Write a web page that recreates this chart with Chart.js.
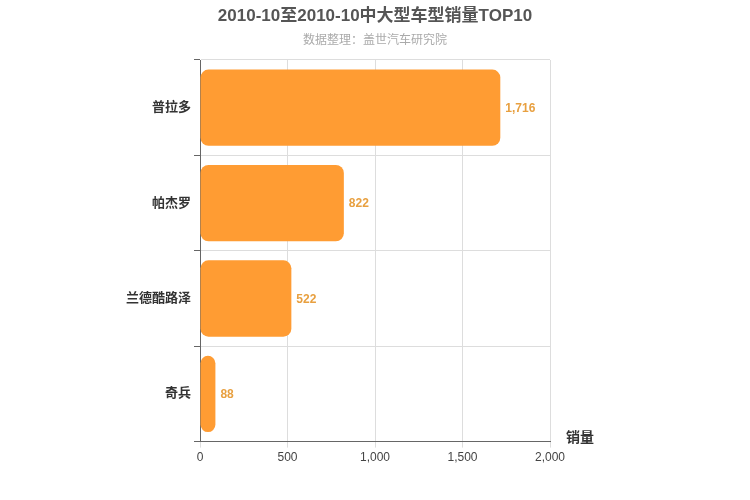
<!DOCTYPE html>
<html>
<head>
<meta charset="utf-8">
<script src="https://cdn.jsdelivr.net/npm/chart.js@4/dist/chart.umd.min.js"></script>
<style>
  body { margin: 0; background: #fff; }
  #wrap { width: 750px; height: 500px; }
</style>
</head>
<body>
<div id="wrap"><canvas id="c"></canvas></div>
<script>
const categories = ['普拉多', '帕杰罗', '兰德酷路泽', '奇兵'];
const sales = [1716, 822, 522, 88];
const xTicks = [0, 500, 1000, 1500, 2000];

const FONT = '"Liberation Sans", "Noto Sans CJK SC", sans-serif';

// 标题、轴名和数值标签
const extras = {
  id: 'extras',
  afterDraw(chart) {
    const c = chart.ctx;
    c.save();
    c.textAlign = 'center';
    c.textBaseline = 'middle';
    c.fillStyle = '#555';
    c.font = 'bold 17px ' + FONT;
    c.fillText('2010-10至2010-10中大型车型销量TOP10', 375, 16);
    c.fillStyle = '#aaa';
    c.font = '12px ' + FONT;
    c.fillText('数据整理：盖世汽车研究院', 375, 41);
    c.fillStyle = '#333';
    c.font = 'bold 14px ' + FONT;
    c.fillText('销量', 580, 438);

    const meta = chart.getDatasetMeta(0);
    c.textAlign = 'left';
    c.fillStyle = '#e8a040';
    c.font = 'bold 12px ' + FONT;
    meta.data.forEach((bar, i) => {
      c.fillText(sales[i].toLocaleString('en-US'), bar.x + 5, bar.y + 1);
    });
    c.restore();
  }
};

new Chart(document.getElementById('c'), {
  type: 'bar',
  data: {
    labels: categories,
    datasets: [{
      data: sales,
      backgroundColor: '#ff9c33',
      borderRadius: 8,
      borderSkipped: false,
      barPercentage: 0.8,
      categoryPercentage: 1
    }]
  },
  options: {
    indexAxis: 'y',
    responsive: true,
    maintainAspectRatio: false,
    animation: false,
    layout: { padding: { top: 60, right: 200, bottom: 32, left: 0 } },
    plugins: { legend: { display: false }, tooltip: { enabled: false } },
    scales: {
      x: {
        min: 0, max: 2000,
        afterBuildTicks(scale) { scale.ticks = xTicks.map(v => ({ value: v })); },
        grid: { color: '#ddd', drawTicks: true, tickLength: 6 },
        border: { color: '#666' },
        ticks: { color: '#444', font: { size: 12, family: FONT },
                 callback: v => v.toLocaleString('en-US') }
      },
      y: {
        afterFit(scale) { scale.width = 200; },
        grid: { color: '#ddd', tickLength: 6, tickColor: '#666' },
        border: { color: '#666' },
        ticks: { color: '#333', font: { size: 13, weight: 'bold', family: FONT } }
      }
    }
  },
  plugins: [extras]
});
</script>
</body>
</html>
